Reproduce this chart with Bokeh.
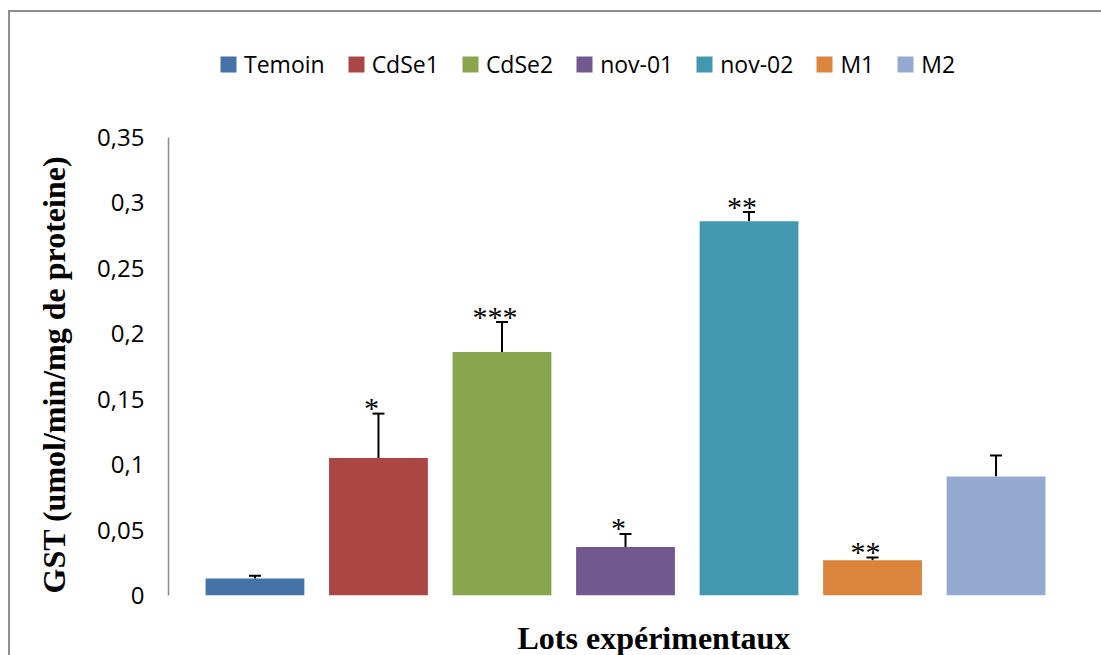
from bokeh.plotting import figure
from bokeh.models import (ColumnDataSource, Range1d, FixedTicker, Whisker, TeeHead,
                          Legend, LegendItem, Title)
from bokeh.core.properties import value
from bokeh.embed import file_html
from bokeh.resources import INLINE

# ---- data ----
categories = ["Temoin", "CdSe1", "CdSe2", "nov-01", "nov-02", "M1", "M2"]
means = [0.013, 0.105, 0.186, 0.037, 0.286, 0.027, 0.091]
errors = [0.002, 0.034, 0.023, 0.010, 0.007, 0.002, 0.016]
stars = ["", "*", "***", "*", "**", "**", ""]
colors = ["#4572A7", "#AA4643", "#89A54E", "#71588F", "#4198AF", "#DB843D", "#93A9CF"]
y_ticks = [0, 0.05, 0.1, 0.15, 0.2, 0.25, 0.3, 0.35]
y_tick_labels = ["0", "0,05", "0,1", "0,15", "0,2", "0,25", "0,3", "0,35"]
y_title = "GST (umol/min/mg de proteine)"
x_title = "Lots expérimentaux"

xs = list(range(len(categories)))
upper = [m + e for m, e in zip(means, errors)]
src = ColumnDataSource(dict(x=xs, cat=categories, mean=means, upper=upper,
                            color=colors, stars=stars))

# layout: the axis part of the frame is 458 px tall for 0..0.35; the frame is
# extended upward so the legend can sit inside it
axis_px = 458
frame_h = 565
y_max = y_ticks[-1]
y_end = y_max * frame_h / axis_px

p = figure(width=1091, height=643, output_backend="svg", toolbar_location=None,
           x_range=Range1d(-0.7, len(categories) - 0.3), y_range=Range1d(0, y_end),
           x_axis_location=None, frame_width=914, frame_height=frame_h,
           min_border_left=158, min_border_top=18, min_border_right=19,
           min_border_bottom=60)
p.styles = {"margin-left": "8px", "margin-top": "10px",
            "border-left": "2px solid #8f8f8f", "border-top": "2px solid #8f8f8f"}
p.outline_line_color = None
p.grid.visible = False
p.background_fill_color = "white"
p.border_fill_color = "white"

r = p.vbar(x="x", top="mean", bottom=0, width=0.8, source=src,
           fill_color="color", line_color=None)

wh = Whisker(source=src, base="x", upper="upper", lower="mean", dimension="height",
             line_color="black", line_width=2,
             upper_head=TeeHead(size=12, line_color="black", line_width=2),
             lower_head=None)
p.add_layout(wh)

p.text(x="x", y="upper", text="stars", source=src,
       text_font=value("Liberation Serif"), text_font_size="30px",
       text_align="center", text_baseline="alphabetic",
       x_offset=-7, y_offset=-6, text_color="black")

# y axis
ax = p.yaxis[0]
ax.bounds = (0, y_max)
ax.ticker = FixedTicker(ticks=y_ticks)
ax.major_label_overrides = {t: l for t, l in zip(y_ticks, y_tick_labels)}
ax.major_tick_out = 0
ax.major_tick_in = 0
ax.minor_tick_out = 0
ax.minor_tick_in = 0
ax.axis_line_color = "#8a8a8a"
ax.axis_line_width = 1.5
ax.major_label_text_font = "Open Sans"
ax.major_label_text_font_size = "24px"
ax.major_label_text_color = "black"
ax.major_label_standoff = 24

# y title (placed in the left panel, starting at the bottom of the axis)
p.add_layout(Title(text=y_title, align="left", offset=2, vertical_align="bottom",
                   text_font="Liberation Serif", text_font_style="bold",
                   text_font_size="32px", text_color="black", standoff=46), "left")

# x title
p.add_layout(Title(text=x_title, align="left", offset=349,
                   text_font="Liberation Serif", text_font_style="bold",
                   text_font_size="32px", text_color="black", standoff=44), "below")

# legend
items = [LegendItem(label=c, renderers=[r], index=i) for i, c in enumerate(categories)]
leg = Legend(items=items, orientation="horizontal", location=(50, 515),
             glyph_width=20, glyph_height=20, label_standoff=6, spacing=21,
             padding=0, margin=0, border_line_color=None,
             background_fill_alpha=0, label_text_font="Open Sans",
             label_text_font_size="23px", label_text_color="black")
p.add_layout(leg)

open("out.html", "w").write(file_html(p, INLINE))
